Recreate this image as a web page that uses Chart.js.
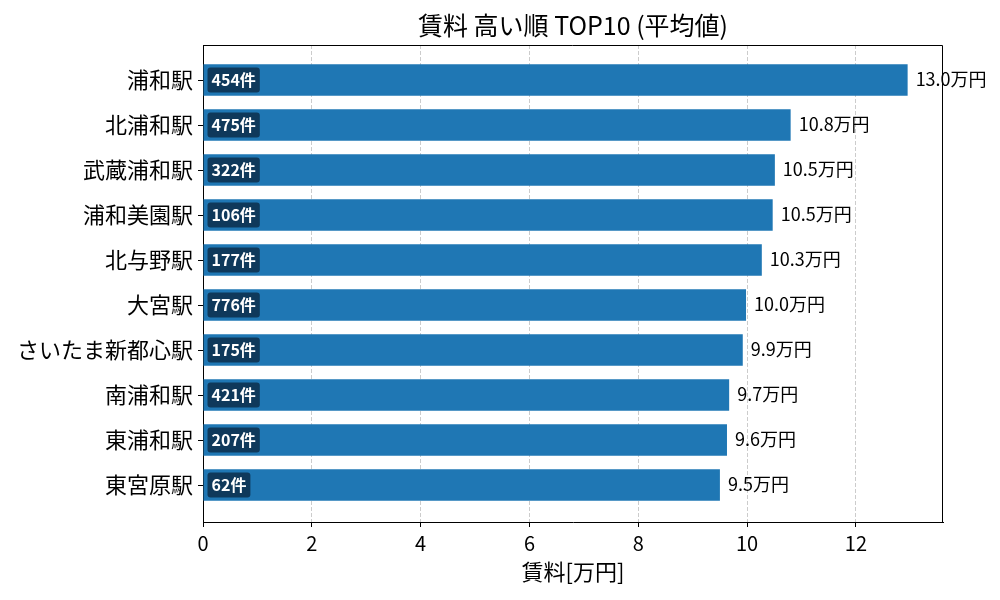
<!DOCTYPE html>
<html>
<head>
<meta charset="utf-8">
<script src="https://cdn.jsdelivr.net/npm/chart.js@4"></script>
<style>
  html, body { margin: 0; padding: 0; background: white; }
  #wrap { width: 1000px; height: 600px; }
</style>
</head>
<body>
<div id="wrap"><canvas id="chart" width="1000" height="600"></canvas></div>
<script>
const stations = [
  "浦和駅", "北浦和駅", "武蔵浦和駅", "浦和美園駅", "北与野駅",
  "大宮駅", "さいたま新都心駅", "南浦和駅", "東浦和駅", "東宮原駅"
]
const rents = [12.95, 10.80, 10.51, 10.47, 10.27, 9.98, 9.92, 9.67, 9.63, 9.50]
const rentLabels = ["13.0", "10.8", "10.5", "10.5", "10.3", "10.0", "9.9", "9.7", "9.6", "9.5"]
const counts = [454, 475, 322, 106, 177, 776, 175, 421, 207, 62]
const xTicks = [0, 2, 4, 6, 8, 10, 12]

const FONT = "'Noto Sans CJK JP', 'Noto Sans', sans-serif"

// frame on top/right like matplotlib spines, plus the text on the bars
const barText = {
  id: "barText",
  afterDatasetsDraw(chart) {
    const ctx = chart.ctx
    const area = chart.chartArea
    const meta = chart.getDatasetMeta(0)
    ctx.save()
    meta.data.forEach((bar, i) => {
      // count badge
      ctx.font = "bold 16px " + FONT
      const txt = counts[i] + "件"
      const w = ctx.measureText(txt).width
      const bx = bar.base + 4
      const bh = 25
      ctx.fillStyle = "rgba(14, 52, 84, 0.92)"
      ctx.beginPath()
      ctx.roundRect(bx, bar.y - bh / 2, w + 8, bh, 3)
      ctx.fill()
      ctx.fillStyle = "white"
      ctx.textAlign = "left"
      ctx.textBaseline = "middle"
      ctx.fillText(txt, bx + 4, bar.y)
      // value label
      ctx.font = "18px " + FONT
      ctx.fillStyle = "#000"
      ctx.fillText(rentLabels[i] + "万円", bar.x + 8, bar.y - 0.5)
    })
    ctx.strokeStyle = "black"
    ctx.lineWidth = 1
    ctx.beginPath()
    ctx.moveTo(area.left, area.top + 0.5)
    ctx.lineTo(area.right - 0.5, area.top + 0.5)
    ctx.lineTo(area.right - 0.5, area.bottom)
    ctx.stroke()
    ctx.restore()
  }
}

const ctx = document.getElementById("chart").getContext("2d")
new Chart(ctx, {
  type: "bar",
  data: {
    datasets: [{
      data: rents.map((v, i) => ({ x: v, y: i })),
      backgroundColor: "#1f77b4",
      borderWidth: 0,
      categoryPercentage: 1,
      barPercentage: 0.7
    }]
  },
  options: {
    indexAxis: "y",
    responsive: false,
    animation: false,
    layout: { padding: { right: 57, left: 0, top: 0, bottom: 0 } },
    plugins: {
      legend: { display: false },
      tooltip: { enabled: false },
      title: {
        display: true,
        text: "賃料 高い順 TOP10 (平均値)",
        color: "#000",
        fullSize: false,
        font: { family: FONT, size: 25, weight: "normal", lineHeight: 1.2 },
        padding: { top: 10, bottom: 5 }
      }
    },
    scales: {
      x: {
        type: "linear",
        min: 0,
        max: 13.6,
        afterBuildTicks: s => { s.ticks = xTicks.map(v => ({ value: v })) },
        afterFit: s => { s.height = 78 },
        ticks: {
          color: "#000",
          padding: 4,
          font: { family: FONT, size: 20 }
        },
        grid: {
          color: c => (c.tick && c.tick.value === 0) ? "rgba(0,0,0,0)" : "#cccccc",
          lineWidth: 1,
          tickColor: "black",
          tickLength: 5
        },
        border: { display: true, color: "black", width: 1, dash: [4, 2] },
        title: {
          display: true,
          text: "賃料[万円]",
          color: "#000",
          font: { family: FONT, size: 22, lineHeight: 1.2 },
          padding: { top: 0, bottom: 15 }
        }
      },
      y: {
        type: "linear",
        reverse: true,
        offset: false,
        min: -0.778,
        max: 9.822,
        afterBuildTicks: s => { s.ticks = stations.map((_, i) => ({ value: i })) },
        afterFit: s => { s.width = 203 },
        ticks: {
          color: "#000",
          padding: 5,
          autoSkip: false,
          font: { family: FONT, size: 22 },
          callback: v => stations[v]
        },
        grid: {
          offset: false,
          drawOnChartArea: false,
          color: "black",
          tickColor: "black",
          tickLength: 5
        },
        border: { display: true, color: "black", width: 1 }
      }
    }
  },
  plugins: [barText]
})
</script>
</body>
</html>
